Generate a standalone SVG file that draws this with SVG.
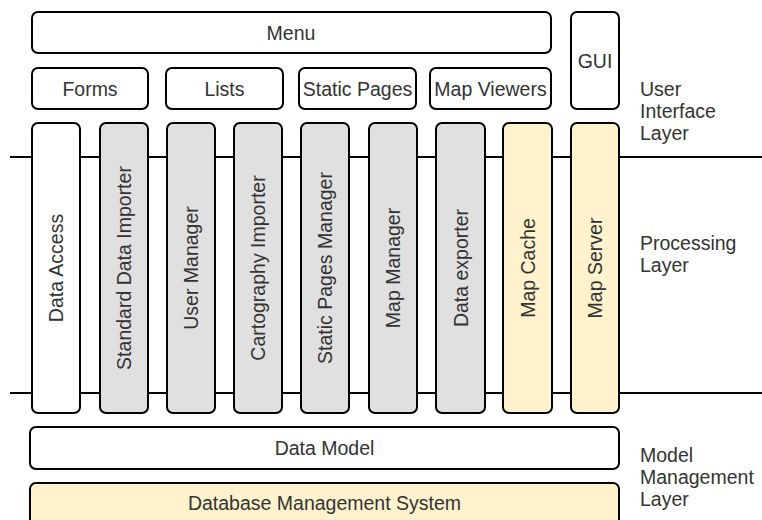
<svg xmlns="http://www.w3.org/2000/svg" width="762" height="520" viewBox="0 0 762 520">
  <style>
    .box { stroke: #000; stroke-width: 2; }
    .white { fill: #ffffff; }
    .gray { fill: #e0e0e0; }
    .yellow { fill: #fff2cc; }
    text { font-family: "Liberation Sans", Arial, sans-serif; font-size: 19.5px; fill: #333333; }
    .c { text-anchor: middle; dominant-baseline: central; }
    .rule { stroke: #000; stroke-width: 2; fill: none; }
  </style>
  <rect width="762" height="520" fill="#ffffff"/>

  <!-- layer separators -->
  <g id="connectors">
    <line class="rule" x1="10" y1="157" x2="762" y2="157"/>
    <line class="rule" x1="10" y1="393" x2="762" y2="393"/>
  </g>

  <!-- user interface layer -->
  <g id="menu">
    <rect class="box white" x="32" y="12" width="519" height="41" rx="6"/>
    <text class="c" x="291" y="33">Menu</text>
  </g>
  <g id="forms">
    <rect class="box white" x="32" y="68" width="116" height="41" rx="6"/>
    <text class="c" x="90" y="89">Forms</text>
  </g>
  <g id="lists">
    <rect class="box white" x="166" y="68" width="117" height="41" rx="6"/>
    <text class="c" x="224.5" y="89">Lists</text>
  </g>
  <g id="static-pages">
    <rect class="box white" x="299" y="68" width="117" height="41" rx="6"/>
    <text class="c" x="357.5" y="89">Static Pages</text>
  </g>
  <g id="map-viewers">
    <rect class="box white" x="430" y="68" width="121" height="41" rx="6"/>
    <text class="c" x="490.5" y="89">Map Viewers</text>
  </g>
  <g id="gui">
    <rect class="box white" x="571" y="12" width="48" height="97" rx="6"/>
    <text class="c" x="595" y="61">GUI</text>
  </g>

  <!-- processing columns -->
  <g id="data-access">
    <rect class="box white" x="32" y="123" width="48" height="290" rx="6"/>
    <text class="c" transform="translate(56 268) rotate(-90)">Data Access</text>
  </g>
  <g id="standard-data-importer">
    <rect class="box gray" x="100" y="123" width="48" height="290" rx="6"/>
    <text class="c" transform="translate(124 268) rotate(-90)">Standard Data Importer</text>
  </g>
  <g id="user-manager">
    <rect class="box gray" x="167" y="123" width="48" height="290" rx="6"/>
    <text class="c" transform="translate(191 268) rotate(-90)">User Manager</text>
  </g>
  <g id="cartography-importer">
    <rect class="box gray" x="234" y="123" width="48" height="290" rx="6"/>
    <text class="c" transform="translate(258 268) rotate(-90)">Cartography Importer</text>
  </g>
  <g id="static-pages-manager">
    <rect class="box gray" x="301" y="123" width="48" height="290" rx="6"/>
    <text class="c" transform="translate(325 268) rotate(-90)">Static Pages Manager</text>
  </g>
  <g id="map-manager">
    <rect class="box gray" x="369" y="123" width="48" height="290" rx="6"/>
    <text class="c" transform="translate(393 268) rotate(-90)">Map Manager</text>
  </g>
  <g id="data-exporter">
    <rect class="box gray" x="436" y="123" width="49" height="290" rx="6"/>
    <text class="c" transform="translate(460.5 268) rotate(-90)">Data exporter</text>
  </g>
  <g id="map-cache">
    <rect class="box yellow" x="503" y="123" width="49" height="290" rx="6"/>
    <text class="c" transform="translate(527.5 268) rotate(-90)">Map Cache</text>
  </g>
  <g id="map-server">
    <rect class="box yellow" x="571" y="123" width="48" height="290" rx="6"/>
    <text class="c" transform="translate(595 268) rotate(-90)">Map Server</text>
  </g>

  <!-- model management layer -->
  <g id="data-model">
    <rect class="box white" x="30" y="427" width="589" height="42" rx="6"/>
    <text class="c" x="324.5" y="448">Data Model</text>
  </g>
  <g id="dbms">
    <rect class="box yellow" x="30" y="483" width="589" height="50" rx="6"/>
    <text class="c" x="324.5" y="503">Database Management System</text>
  </g>

  <!-- layer labels -->
  <g id="label-ui">
    <text x="640" y="96">User</text>
    <text x="640" y="118">Interface</text>
    <text x="640" y="140">Layer</text>
  </g>
  <g id="label-processing">
    <text x="640" y="250">Processing</text>
    <text x="640" y="272">Layer</text>
  </g>
  <g id="label-model">
    <text x="640" y="462">Model</text>
    <text x="640" y="484">Management</text>
    <text x="640" y="506">Layer</text>
  </g>
</svg>
